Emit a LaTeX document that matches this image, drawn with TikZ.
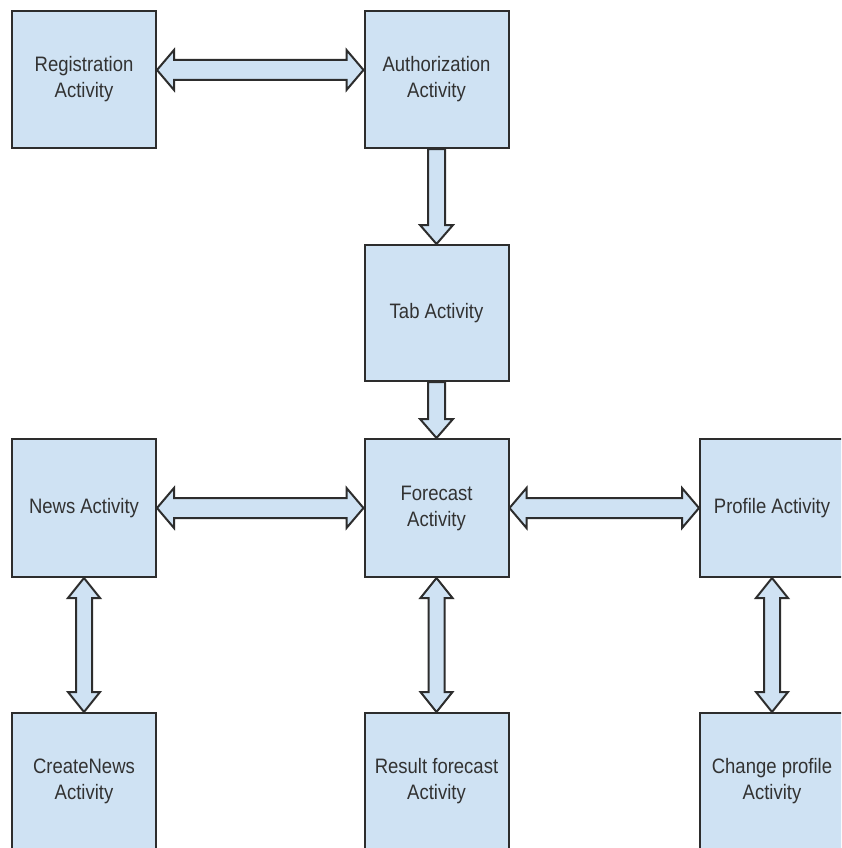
\documentclass[tikz,border=0pt]{standalone}
\usepackage{fontspec}
\usepackage{graphicx}
\setmainfont{Liberation Sans}
\usetikzlibrary{calc}
\definecolor{boxfill}{RGB}{207,226,243}
\definecolor{boxline}{RGB}{45,45,45}
\definecolor{txt}{RGB}{50,50,50}
\tikzset{
  box/.style={draw=boxline, fill=boxfill, line width=2pt, minimum width=144pt, minimum height=137pt,
    inner sep=0pt, align=center, text=txt, font=\fontsize{18.5}{23}\selectfont},
  conn/.style={draw=boxline, fill=boxfill, line width=2pt, line join=miter}
}
\newcommand{\lbl}[1]{\scalebox{1}[1.13]{\begin{tabular}{@{}c@{}}#1\end{tabular}}}
% horizontal double arrow: from node #1 (east) to node #2 (west), vertical offset #3
\newcommand{\hdarr}[3]{%
  \draw[conn] ($(#1.east)+(0,#3)$) -- ++(17,20) -- ++(0,-10)
    -- ($(#2.west)+(-17,#3+10)$) -- ++(0,10) -- ($(#2.west)+(0,#3)$)
    -- ++(-17,-20) -- ++(0,10) -- ($(#1.east)+(17,#3-10)$) -- ++(0,-10) -- cycle;}
% vertical double arrow: from node #1 (south) to node #2 (north)
\newcommand{\vdarr}[2]{%
  \draw[conn] (#1.south) -- ++(-16,-20) -- ++(8,0)
    -- ($(#2.north)+(-8,20)$) -- ++(-8,0) -- (#2.north)
    -- ++(16,20) -- ++(-8,0) -- ($(#1.south)+(8,-20)$) -- ++(8,0) -- cycle;}
% vertical single arrow: from node #1 (south) down to node #2 (north)
\newcommand{\vsarr}[2]{%
  \draw[conn] ($(#1.south)+(-8.5,0)$) -- ($(#2.north)+(-8.5,19)$) -- ++(-8,0)
    -- (#2.north) -- ++(16.5,19) -- ++(-8,0) -- ($(#1.south)+(8.5,0)$) -- cycle;}
\begin{document}
\begin{tikzpicture}[x=1pt,y=1pt]
\useasboundingbox (0,0) rectangle (841,-848);
\clip (0,0) rectangle (841,-848);
\fill[white] (0,0) rectangle (841,-848);
% boxes
\node[box] (reg)  at (84,-79.5)   {\lbl{Registration\\Activity}};
\node[box] (auth) at (436.5,-79.5) {\lbl{Authorization\\Activity}};
\node[box, minimum height=136pt] (tab) at (436.5,-313) {\lbl{Tab Activity}};
\node[box, minimum height=138pt] (news) at (84,-508)    {\lbl{News Activity}};
\node[box, minimum height=138pt] (fc)   at (436.5,-508) {\lbl{Forecast\\Activity}};
\node[box, minimum height=138pt] (prof) at (772,-508)   {\lbl{Profile Activity}};
\node[box] (cn)   at (84,-781.5)    {\lbl{CreateNews\\Activity}};
\node[box] (res)  at (436.5,-781.5) {\lbl{Result forecast\\Activity}};
\node[box] (chg)  at (772,-781.5)   {\lbl{Change profile\\Activity}};
% connectors
\hdarr{reg}{auth}{9.5}
\vsarr{auth}{tab}
\vsarr{tab}{fc}
\hdarr{news}{fc}{0}
\hdarr{fc}{prof}{0}
\vdarr{news}{cn}
\vdarr{fc}{res}
\vdarr{prof}{chg}
\end{tikzpicture}
\end{document}
